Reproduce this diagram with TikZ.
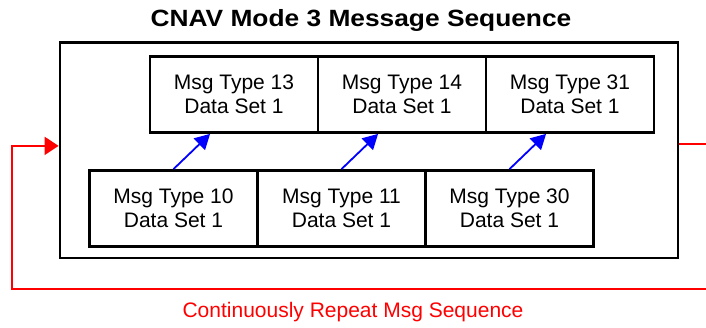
\documentclass[tikz,border=0pt]{standalone}
\usepackage{fontspec}
\setmainfont{Liberation Sans}
\newfontfamily\titlefont{Liberation Sans}[FakeStretch=1.12]
\usetikzlibrary{calc,arrows.meta}
\begin{document}
\begin{tikzpicture}[x=1pt,y=-1pt,
  msgbox/.style={draw=black, line width=2.8pt, minimum width=168pt, minimum height=76pt,
    inner sep=0pt, align=center, font=\fontsize{21}{23.5}\selectfont},
  frame/.style={draw=black, line width=2.8pt, inner sep=0pt},
  seqarrow/.style={draw=blue, line width=1.8pt, -{Triangle[length=15pt,width=16pt]}},
  loopline/.style={draw=red, line width=1.8pt},
  looparrow/.style={loopline, -{Triangle[length=14pt,width=18pt]}}]
\useasboundingbox (0,0) rectangle (706,327);

% title
\node[anchor=base] (title) at (361,26) {\titlefont\fontsize{23.5}{28}\selectfont\bfseries CNAV Mode 3 Message Sequence};

% enclosing frame
\node[frame, minimum width=618pt, minimum height=215.5pt] (outer) at (369,150.25) {};

% upper row of messages
\node[msgbox] (t13) at (234,94.5) {Msg Type 13\\Data Set 1};
\node[msgbox] (t14) at (402,94.5) {Msg Type 14\\Data Set 1};
\node[msgbox] (t31) at (570,94.5) {Msg Type 31\\Data Set 1};

% lower row of messages
\node[msgbox] (t10) at (173.5,208.5) {Msg Type 10\\Data Set 1};
\node[msgbox] (t11) at (341.5,208.5) {Msg Type 11\\Data Set 1};
\node[msgbox] (t30) at (509.5,208.5) {Msg Type 30\\Data Set 1};

% transitions between rows
\draw[seqarrow] (t10.north) -- ($(t13.south west)!0.36!(t13.south east)$);
\draw[seqarrow] (t11.north) -- ($(t14.south west)!0.36!(t14.south east)$);
\draw[seqarrow] (t30.north) -- ($(t31.south west)!0.36!(t31.south east)$);

% repeat loop
\coordinate (outR) at ($(outer.north east)!0.47!(outer.south east)$);
\coordinate (exitR) at (708,0 |- outR);
\coordinate (retR) at (708,289);
\coordinate (retL) at (12,289);
\coordinate (inL) at ($(outer.north west)!0.48!(outer.south west)$);
\draw[loopline] (outR) -- (exitR);
\draw[looparrow] (retR) -- (retL) |- (inL);

\node[text=red, font=\fontsize{21}{24}\selectfont, anchor=base] (repeat) at (353,317) {Continuously Repeat Msg Sequence};
\end{tikzpicture}
\end{document}
